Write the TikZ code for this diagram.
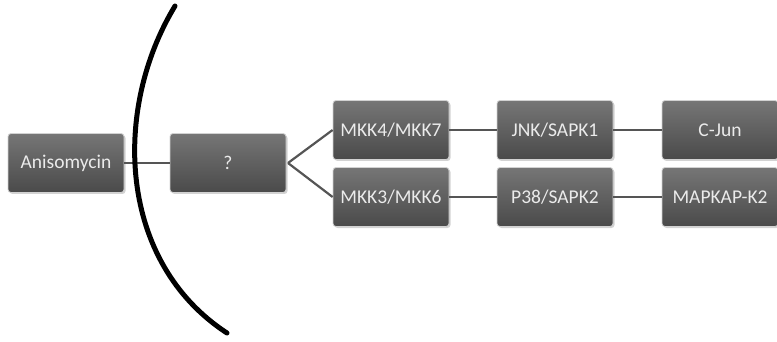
\documentclass[tikz,border=0pt]{standalone}
\usepackage{fontspec}
\setmainfont{Carlito}
\usetikzlibrary{shadows}
\definecolor{boxtop}{HTML}{767676}
\definecolor{boxbot}{HTML}{4A4A4A}
\definecolor{linkc}{HTML}{555555}
\tikzset{
  kbox/.style={rounded corners=3pt, minimum width=116pt, minimum height=59pt,
    top color=boxtop, bottom color=boxbot, draw=gray!35, line width=0.8pt,
    text=white!92!black, font=\fontsize{19.5}{22}\selectfont, inner sep=0pt,
    drop shadow={opacity=0.35, shadow xshift=1.5pt, shadow yshift=-1.5pt}},
  link/.style={draw=linkc, line width=2.2pt},
  arcline/.style={draw=black, line width=5pt, line cap=round}
}
\begin{document}
\begin{tikzpicture}[x=1pt,y=-1pt]
\useasboundingbox (0,0) rectangle (777,342);
\node[kbox] (ani) at (66,163) {Anisomycin};
\node[kbox] (q) at (228,163) {?};
\node[kbox] (mkk47) at (391,130) {MKK4/MKK7};
\node[kbox] (mkk36) at (391,197) {MKK3/MKK6};
\node[kbox] (jnk) at (555,130) {JNK/SAPK1};
\node[kbox] (p38) at (555,197) {P38/SAPK2};
\node[kbox] (cjun) at (720,130) {C-Jun};
\node[kbox] (mapk) at (720,197) {MAPKAP-K2};
\coordinate (fork) at (288,163);
\draw[link] (ani.east) -- (q.west);
\draw[link] (fork) -- (mkk47.west);
\draw[link] (fork) -- (mkk36.west);
\draw[link] (mkk47.east) -- (jnk.west);
\draw[link] (jnk.east) -- (cjun.west);
\draw[link] (mkk36.east) -- (p38.west);
\draw[link] (p38.east) -- (mapk.west);
\coordinate (arcA) at (175,6);
\coordinate (arcB) at (227,333);
\draw[arcline] (arcA) .. controls (112,110) and (118,262) .. (arcB);
\end{tikzpicture}
\end{document}
